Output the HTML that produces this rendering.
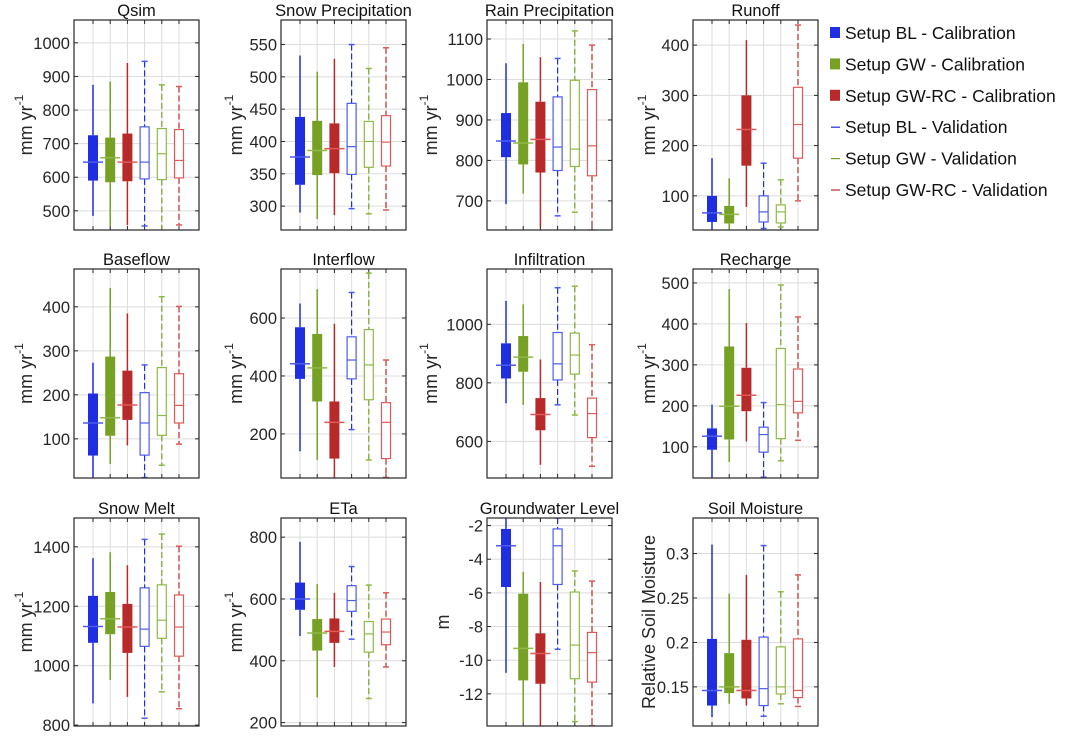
<!DOCTYPE html>
<html><head><meta charset="utf-8"><style>
body{margin:0;background:#fff;}
svg{display:block;font-family:"Liberation Sans",Arial,sans-serif;}
</style></head><body>
<svg id="chart" width="1072" height="736" viewBox="0 0 1072 736"></svg>
<script>
const panelTitles=["Qsim","Snow Precipitation","Rain Precipitation","Runoff","Baseflow","Interflow","Infiltration","Recharge","Snow Melt","ETa","Groundwater Level","Soil Moisture"];
const seriesNames=["Setup BL - Calibration","Setup GW - Calibration","Setup GW-RC - Calibration","Setup BL - Validation","Setup GW - Validation","Setup GW-RC - Validation"];
// each box: [q1, median, q3, whiskerLow, whiskerHigh]
const qsimBoxes=[[590,645,725,485,875],[585,658,718,455,885],[588,645,730,458,940],[595,645,750,455,945],[593,670,745,440,875],[598,650,742,458,870]];
const snowPrecipBoxes=[[333,376,438,290,533],[348,386,432,280,508],[351,389,428,286,528],[349,392,459,296,550],[360,400,431,288,513],[362,399,440,294,545]];
const rainPrecipBoxes=[[808,848,917,692,1040],[790,843,993,718,1088],[770,852,945,635,1055],[775,833,957,663,1052],[785,828,998,672,1120],[762,836,975,628,1085]];
const runoffBoxes=[[48,66,100,32,175],[45,63,80,32,135],[160,232,300,78,410],[48,68,100,35,165],[46,68,82,38,132],[175,242,316,90,440]];
const baseflowBoxes=[[62,136,203,12,273],[107,148,287,43,443],[143,177,255,85,385],[63,136,205,12,268],[108,153,262,40,423],[136,176,248,88,401]];
const interflowBoxes=[[390,442,568,140,650],[312,428,545,110,700],[115,240,312,48,580],[390,455,535,215,688],[318,438,560,110,755],[115,240,308,50,455]];
const infiltrationBoxes=[[815,860,935,730,1080],[838,888,960,725,1068],[638,692,748,520,880],[810,865,972,725,1125],[830,895,970,690,1130],[613,695,748,515,930]];
const rechargeBoxes=[[93,126,145,24,203],[118,199,345,63,485],[187,226,293,113,402],[87,130,148,26,208],[120,203,340,66,495],[183,211,290,116,417]];
const snowMeltBoxes=[[1077,1132,1235,873,1362],[1106,1158,1248,952,1382],[1043,1130,1208,895,1338],[1065,1123,1262,823,1425],[1092,1153,1272,912,1443],[1032,1130,1238,855,1402]];
const etaBoxes=[[565,600,653,480,785],[433,490,535,282,648],[458,495,537,380,620],[560,595,643,470,705],[428,487,527,278,645],[452,493,535,380,620]];
const gwLevelBoxes=[[-5.65,-3.2,-2.2,-10.75,-1.55],[-11.2,-9.3,-6.05,-13.7,-4.75],[-11.4,-9.6,-8.4,-13.9,-5.35],[-5.5,-3.2,-2.2,-9.35,-1.55],[-11.1,-9.1,-5.95,-13.65,-4.7],[-11.3,-9.55,-8.35,-13.9,-5.3]];
const soilBoxes=[[0.129,0.146,0.204,0.116,0.31],[0.143,0.15,0.188,0.131,0.255],[0.137,0.146,0.203,0.129,0.276],[0.129,0.148,0.206,0.117,0.309],[0.142,0.15,0.195,0.131,0.257],[0.138,0.146,0.204,0.128,0.276]];
const yLimits=[[443,1068],[263,588],[628,1147],[32,450],[11,486],[48,769],[475,1189],[24,534],[797,1497],[189,862],[-13.91,-1.55],[0.106,0.340]];
const yTicks=[[500,600,700,800,900,1000],[300,350,400,450,500,550],[700,800,900,1000,1100],[100,200,300,400],[100,200,300,400],[200,400,600],[600,800,1000],[100,200,300,400,500],[800,1000,1200,1400],[200,400,600,800],[-12,-10,-8,-6,-4,-2],[0.15,0.2,0.25,0.3]];
const yTickLabels=[["500","600","700","800","900","1000"],["300","350","400","450","500","550"],["700","800","900","1000","1100"],["100","200","300","400"],["100","200","300","400"],["200","400","600"],["600","800","1000"],["100","200","300","400","500"],["800","1000","1200","1400"],["200","400","600","800"],["-12","-10","-8","-6","-4","-2"],["0.15","0.2","0.25","0.3"]];
const yAxisLabels=["mm","mm","mm","mm","mm","mm","mm","mm","mm","mm","m","Relative Soil Moisture"];
const allBoxes=[qsimBoxes,snowPrecipBoxes,rainPrecipBoxes,runoffBoxes,baseflowBoxes,interflowBoxes,infiltrationBoxes,rechargeBoxes,snowMeltBoxes,etaBoxes,gwLevelBoxes,soilBoxes];

const NS="http://www.w3.org/2000/svg";
const svg=document.getElementById('chart');
const fill=["#1e2ee0","#76a125","#b8292a","#1e2ee0","#76a125","#b8292a"];
const outl=["#4d5bee","#8fb846","#e0595a","#4d5bee","#8fb846","#e0595a"];
const colL=[74,281,487,693], rowT=[20,269,518], rowB=[230,478,726], W=125;
function mk(tag,attrs,parent){const e=document.createElementNS(NS,tag);for(const k in attrs)e.setAttribute(k,attrs[k]);(parent||svg).appendChild(e);return e;}

for(let p=0;p<12;p++){
  const L=colL[p%4], T=rowT[Math.floor(p/4)], B=rowB[Math.floor(p/4)];
  const g=mk('g',{});
  
  
  const [y0,y1]=yLimits[p];
  const ys=v=>B-(v-y0)/(y1-y0)*(B-T);
  const xs=i=>L+19+i*17.2;
  mk('rect',{x:L,y:T,width:W,height:B-T,fill:'#fff'},g);
  yTicks[p].forEach((t,k)=>{
    const y=ys(t);
    const gl=mk('line',{x1:L,x2:L+W,y1:y,y2:y,stroke:'#dcdcdc','stroke-width':1},g);
    
    
    mk('line',{x1:L,x2:L+4,y1:y,y2:y,stroke:'#262626','stroke-width':1},g);
    mk('line',{x1:L+W-4,x2:L+W,y1:y,y2:y,stroke:'#262626','stroke-width':1},g);
    const tl=mk('text',{x:L-4,y:y+6,'text-anchor':'end','font-size':16.5,fill:'#262626'},g);
    tl.textContent=yTickLabels[p][k];
    
    
  });
  for(let i=0;i<6;i++){
    mk('line',{x1:xs(i),x2:xs(i),y1:T,y2:B,stroke:'#dcdcdc','stroke-width':1},g);
    mk('line',{x1:xs(i),x2:xs(i),y1:B-4,y2:B,stroke:'#262626','stroke-width':1},g);
    mk('line',{x1:xs(i),x2:xs(i),y1:T,y2:T+4,stroke:'#262626','stroke-width':1},g);
  }
  const clip='clip'+p;
  const cp=mk('clipPath',{id:clip},g); mk('rect',{x:L,y:T,width:W,height:B-T},cp);
  const bg=mk('g',{'clip-path':'url(#'+clip+')'},g);
  allBoxes[p].forEach((b,i)=>{
    const [q1,md,q3,lo,hi]=b; const cx=xs(i);
    const bx=mk('g',{},bg);
    
    
    if(i<3){
      mk('line',{x1:cx,x2:cx,y1:ys(hi),y2:ys(q3),stroke:fill[i],'stroke-width':1.5},bx);
      mk('line',{x1:cx,x2:cx,y1:ys(q1),y2:ys(lo),stroke:fill[i],'stroke-width':1.5},bx);
      mk('rect',{x:cx-5,y:ys(q3),width:10,height:ys(q1)-ys(q3),fill:fill[i]},bx);
      mk('line',{x1:cx-10,x2:cx+10,y1:ys(md),y2:ys(md),stroke:outl[i],'stroke-width':1.5},bx);
    } else {
      mk('line',{x1:cx,x2:cx,y1:ys(hi),y2:ys(q3),stroke:fill[i],'stroke-width':1.2,'stroke-dasharray':'6 3'},bx);
      mk('line',{x1:cx,x2:cx,y1:ys(q1),y2:ys(lo),stroke:fill[i],'stroke-width':1.2,'stroke-dasharray':'6 3'},bx);
      mk('line',{x1:cx-3,x2:cx+3,y1:ys(hi),y2:ys(hi),stroke:outl[i],'stroke-width':1.5},bx);
      mk('line',{x1:cx-3,x2:cx+3,y1:ys(lo),y2:ys(lo),stroke:outl[i],'stroke-width':1.5},bx);
      mk('rect',{x:cx-4.5,y:ys(q3),width:9,height:ys(q1)-ys(q3),fill:'#fff',stroke:outl[i],'stroke-width':1.2},bx);
      mk('line',{x1:cx-4.5,x2:cx+4.5,y1:ys(md),y2:ys(md),stroke:outl[i],'stroke-width':1.2},bx);
    }
  });
  mk('rect',{x:L,y:T,width:W,height:B-T,fill:'none',stroke:'#262626','stroke-width':1.2},g);
  const tt=mk('text',{x:L+W/2,y:T-4,'text-anchor':'middle','font-size':16.5,fill:'#111'},g);
  tt.textContent=panelTitles[p];
  
  
  const lx=[27,237,432,650][p%4] + (p===10?12:0);
  const yl=mk('text',{x:lx,y:(T+B)/2,'text-anchor':'middle','font-size':18,fill:'#262626',transform:'rotate(-90 '+lx+' '+((T+B)/2)+')','dominant-baseline':'middle'},g);
  
  
  if(yAxisLabels[p]==='mm'){
    yl.textContent='mm yr';
    const sp=mk('tspan',{'font-size':12,dy:-7},yl); sp.textContent='-1';
  } else yl.textContent=yAxisLabels[p];
}
const lg=mk('g',{});


seriesNames.forEach((n,i)=>{
  const y=33+i*31.4;
  const e=mk('g',{},lg);
  
  
  if(i<3) mk('rect',{x:830,y:y-6,width:10,height:11,fill:fill[i]},e);
  else mk('line',{x1:831,x2:840,y1:y,y2:y,stroke:fill[i],'stroke-width':1.2},e);
  const t=mk('text',{x:845,y:y+6,'font-size':17.5,fill:'#111'},e);
  t.textContent=n;
});
</script>
</body></html>
